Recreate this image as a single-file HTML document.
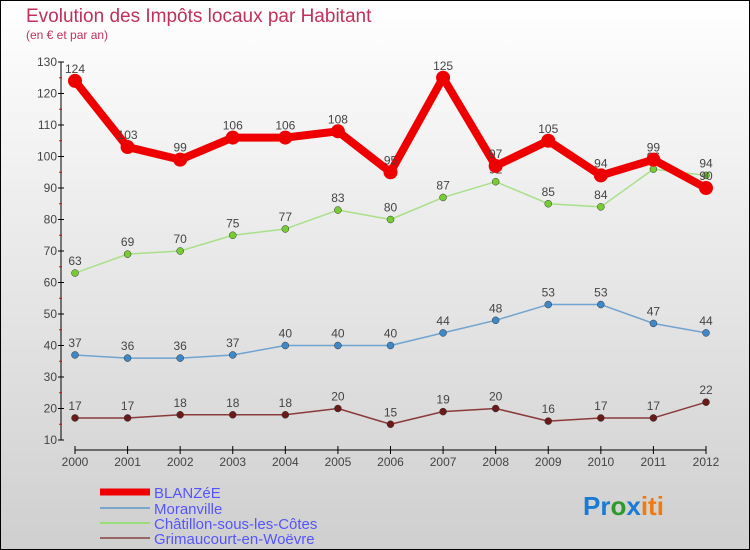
<!DOCTYPE html>
<html><head><meta charset="utf-8"><style>
body{margin:0;}
#c{width:750px;height:550px;position:relative;overflow:hidden;}
text{font-family:"Liberation Sans",sans-serif;}
</style></head><body>
<div id="c">
<svg id="s" width="750" height="550" xmlns="http://www.w3.org/2000/svg">
<defs><linearGradient id="bg" x1="0" y1="0" x2="0" y2="1"><stop offset="0" stop-color="#ffffff"/><stop offset="1" stop-color="#cfcfcf"/></linearGradient></defs>
<rect x="0.5" y="0.5" width="749" height="549" fill="url(#bg)" stroke="#000"/>
<text x="26" y="22" font-size="19" fill="#c0305a">Evolution des Impôts locaux par Habitant</text>
<text x="26" y="39" font-size="12" fill="#c0305a">(en € et par an)</text>
<g id="axes"></g><g id="series"></g>
<g>
<line x1="100" y1="492" x2="150" y2="492" stroke="#e00" stroke-width="7"/>
<text x="154" y="498" font-size="15" fill="#5555ff">BLANZéE</text>
<line x1="100" y1="508" x2="150" y2="508" stroke="#7aa6cc" stroke-width="2"/>
<text x="154" y="514" font-size="15" fill="#5555ff">Moranville</text>
<line x1="100" y1="523" x2="150" y2="523" stroke="#99dd77" stroke-width="2"/>
<text x="154" y="529" font-size="15" fill="#5555ff">Châtillon-sous-les-Côtes</text>
<line x1="100" y1="538" x2="150" y2="538" stroke="#996666" stroke-width="2"/>
<text x="154" y="544" font-size="15" fill="#5555ff">Grimaucourt-en-Woëvre</text>
</g>
<g><text x="583" y="515" font-size="26" font-weight="bold"><tspan fill="#1a7ad4">Pr</tspan><tspan fill="#2a9a2a">o</tspan><tspan fill="#1a7ad4">x</tspan><tspan fill="#f07a10">iti</tspan></text></g>
</svg></div>
<script>
const years=[2000,2001,2002,2003,2004,2005,2006,2007,2008,2009,2010,2011,2012];
const blanzee=[124,103,99,106,106,108,95,125,97,105,94,99,90];
const moranville=[37,36,36,37,40,40,40,44,48,53,53,47,44];
const chatillon=[63,69,70,75,77,83,80,87,92,85,84,96,94];
const grimaucourt=[17,17,18,18,18,20,15,19,20,16,17,17,22];
const yTicks=[10,20,30,40,50,60,70,80,90,100,110,120,130];
const NS="http://www.w3.org/2000/svg";
const X=i=>75+i*(706-75)/12;
const Y=v=>440-(v-10)*(440-62)/120;
function mk(t,a,p){const e=document.createElementNS(NS,t);for(const k in a)e.setAttribute(k,a[k]);p.appendChild(e);return e;}
const ax=document.getElementById('axes');
const yl=mk('line',{x1:61,y1:Y(130),x2:61,y2:Y(10),stroke:'#000'},ax);


const xl=mk('line',{x1:X(0)-0.5,y1:450,x2:X(12)+0.5,y2:450,stroke:'#000'},ax);


yTicks.forEach(v=>{
 mk('line',{x1:58,y1:Y(v),x2:64,y2:Y(v),stroke:'#000'},ax);
 if(v<130) mk('line',{x1:59,y1:Y(v+5),x2:62,y2:Y(v+5),stroke:'#e00'},ax);
 const t=mk('text',{x:57,y:Y(v)+4,'font-size':12,fill:'#444','text-anchor':'end'},ax);
 t.textContent=v;
 
 
});
years.forEach((y,i)=>{
 mk('line',{x1:X(i),y1:446,x2:X(i),y2:454,stroke:'#000'},ax);
 const t=mk('text',{x:X(i),y:466,'font-size':12,fill:'#444','text-anchor':'middle'},ax);
 t.textContent=y;
 
 
});
const sg=document.getElementById('series');
function draw(vals,color,dot,w,r,name){
 const g=mk('g',{},sg);
 
 
 const pl=mk('polyline',{points:vals.map((v,i)=>X(i)+','+Y(v)).join(' '),fill:'none',stroke:color,'stroke-width':w,'stroke-linejoin':'round'},g);
 
 
 vals.forEach((v,i)=>{
  const c=mk('circle',{cx:X(i),cy:Y(v),r:r,fill:dot,stroke:r<5?'#333':'none','stroke-width':0.5},g);
  
  
  const t=mk('text',{x:X(i),y:Y(v)-8,'font-size':12,fill:'#444','text-anchor':'middle'},g);
  t.textContent=v;
  
  
 });
}
draw(grimaucourt,'#8b3a3a','#6b1a1a',1.5,3.5,'grimaucourt');
draw(moranville,'#6fa3d0','#3f88c8',1.5,3.5,'moranville');
draw(chatillon,'#a8e088','#77cc33',1.5,3.5,'chatillon');
draw(blanzee,'#ee0000','#ee0000',8,7,'blanzee');
</script>
</body></html>
